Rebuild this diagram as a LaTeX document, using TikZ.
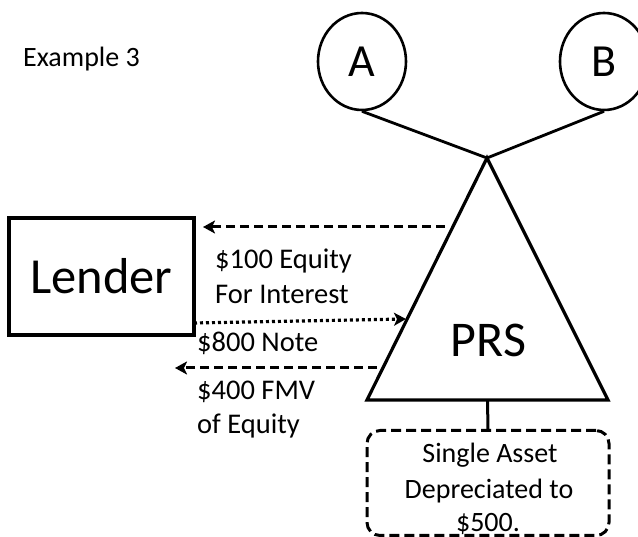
\documentclass[tikz,border=0pt]{standalone}
\usepackage{fontspec}
\setmainfont{Carlito}
\usetikzlibrary{arrows.meta,shapes.geometric}
\begin{document}
\begin{tikzpicture}[x=1pt,y=-1pt,
  party/.style={ellipse, draw, line width=2.6pt, minimum width=88pt, minimum height=97pt,
    inner sep=0pt, font=\fontsize{46}{46}\selectfont},
  link/.style={line width=2.8pt},
  lab/.style={anchor=base west, inner sep=0pt, font=\fontsize{28.5}{28.5}\selectfont},
  boxlab/.style={anchor=base, inner sep=0pt, font=\fontsize{28}{28}\selectfont},
  tipstyle/.style={-{Stealth[length=12pt,width=13pt,inset=3pt]}},
  dashflow/.style={tipstyle, line width=3pt, dash pattern=on 9pt off 5pt},
  dotflow/.style={tipstyle, line width=3.2pt, dash pattern=on 3pt off 3pt}]
\useasboundingbox (0,0) rectangle (638,537);
\clip (0,0) rectangle (638,537);

% title
\node[anchor=base west, inner sep=0pt, font=\fontsize{28}{28}\selectfont] (title) at (23,67) {Example 3};

% partners
\node[party] (A) at (362,61.5) {A};
\node[party] (B) at (604,61.5) {B};

% partnership triangle
\coordinate (apex) at (487,158);
\coordinate (bl) at (367,400);
\coordinate (br) at (608,400);
\coordinate (bm) at (487.5,400);
\draw[line width=3.2pt, line join=miter] (apex) -- (bl) -- (br) -- cycle;
\node[anchor=base, inner sep=0pt, font=\fontsize{50}{50}\selectfont] (prs) at (488.5,357) {PRS};

\draw[link] (A.south) -- (apex);
\draw[link] (B.south) -- (apex);

% lender
\node[draw, line width=3.3pt, minimum width=185pt, minimum height=117pt, inner sep=0pt,
  font=\fontsize{50.5}{50.5}\selectfont] (lender) at (101.5,276.5) {Lender};

% flows between lender and partnership
\coordinate (f1s) at (445,227);
\coordinate (f1e) at (203,227);
\draw[dashflow] (f1s) -- (f1e);
\node[lab] (l1a) at (215,269) {\$100 Equity};
\node[lab] (l1b) at (215,304) {For Interest};

\coordinate (f2s) at (194,323);
\coordinate (f2e) at (406,319);
\draw[dotflow] (f2s) -- (f2e);
\node[lab] (l2) at (197,352) {\$800 Note};

\coordinate (f3s) at (377,368);
\coordinate (f3e) at (175,368);
\draw[dashflow] (f3s) -- (f3e);
\node[lab] (l3a) at (197,400) {\$400 FMV};
\node[lab] (l3b) at (197,434) {of Equity};

% asset held by the partnership
\node[draw, line width=3pt, dash pattern=on 10pt off 5pt, rounded corners=13pt,
  minimum width=242pt, minimum height=105pt, inner sep=0pt] (asset) at (488,483) {};
\draw[line width=3pt] (bm) -- (asset.north);
\node[boxlab] (as1) at (490,463) {Single Asset};
\node[boxlab] (as2) at (489,499) {Depreciated to};
\node[boxlab] (as3) at (488,532) {\$500.};
\end{tikzpicture}
\end{document}
